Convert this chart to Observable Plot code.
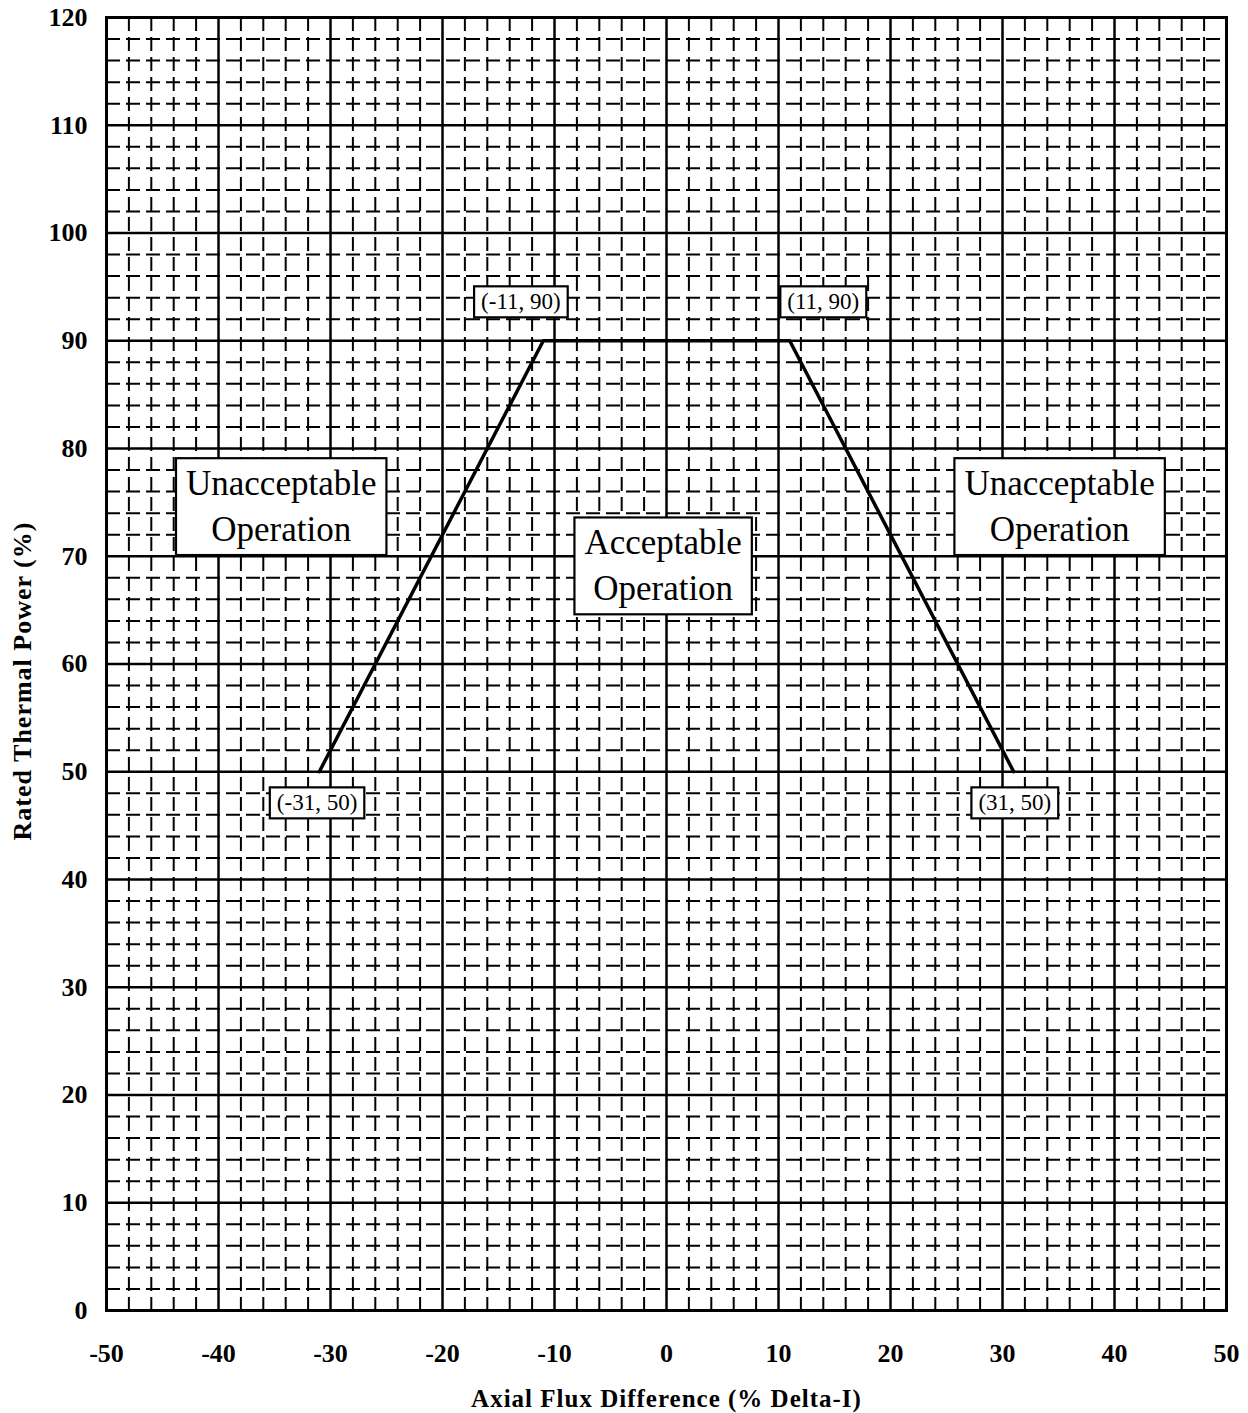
<!DOCTYPE html>
<html>
<head>
<meta charset="utf-8">
<script src="https://cdn.jsdelivr.net/npm/d3@7"></script>
<script src="https://cdn.jsdelivr.net/npm/@observablehq/plot@0.6"></script>
<style>
  html, body { margin: 0; padding: 0; background: white; }
  #chart svg { display: block; }
</style>
</head>
<body>
<div id="chart"></div>
<script>
// Tick labels
const xTicks = [-50, -40, -30, -20, -10, 0, 10, 20, 30, 40, 50];
const yTicks = [0, 10, 20, 30, 40, 50, 60, 70, 80, 90, 100, 110, 120];

// Limit line (Axial Flux Difference, Rated Thermal Power)
const limitAFD = [-31, -11, 11, 31];
const limitPower = [50, 90, 90, 50];

// Point labels
const pointText = ["(-11, 90)", "(11, 90)", "(-31, 50)", "(31, 50)"];
const pointX = [-13, 14, -31.2, 31.1];
const pointY = [93.6, 93.6, 47.1, 47.1];

// Region labels
const regionText = ["Unacceptable\nOperation", "Acceptable\nOperation", "Unacceptable\nOperation"];
const regionX = [-34.4, -0.3, 35.1];
const regionY = [74.9, 69.4, 74.9];

const xTitle = "Axial Flux Difference (% Delta-I)";
const yTitle = "Rated Thermal Power (%)";

// Grid
const xMinor = d3.range(-50, 51, 2).filter(v => v % 10 !== 0);
const yMinor = d3.range(0, 121, 2).filter(v => v % 10 !== 0);

const limitData = limitAFD.map((x, i) => ({x, y: limitPower[i]}));
const pointData = pointText.map((t, i) => ({t, x: pointX[i], y: pointY[i]}));
const regionData = regionText.map((t, i) => ({t, x: regionX[i], y: regionY[i]}));

const serif = "'Liberation Serif', 'Times New Roman', serif";

const chart = Plot.plot({
  width: 1248,
  height: 1413,
  marginLeft: 106,
  marginRight: 22,
  marginTop: 17,
  marginBottom: 103,
  style: {fontFamily: serif, fontSize: "26px", fontWeight: "bold", background: "white", color: "black"},
  x: {domain: [-50, 50], ticks: xTicks, tickSize: 0, tickPadding: 33, tickFormat: d => String(d), label: null},
  y: {domain: [0, 120], ticks: yTicks, tickSize: 0, tickPadding: 19, tickFormat: d => String(d), label: null},
  marks: [
    Plot.ruleX(xMinor, {stroke: "black", strokeWidth: 2, strokeDasharray: "14,6"}),
    Plot.ruleY(yMinor, {stroke: "black", strokeWidth: 2, strokeDasharray: "14,6"}),
    Plot.ruleX(xTicks, {stroke: "black", strokeWidth: 2.5}),
    Plot.ruleY(yTicks, {stroke: "black", strokeWidth: 2.5}),
    Plot.frame({stroke: "black", strokeWidth: 3}),
    Plot.line(limitData, {x: "x", y: "y", stroke: "black", strokeWidth: 3.5}),
    Plot.text(regionData, {x: "x", y: "y", text: "t", fontSize: 35, fontWeight: "normal", lineHeight: 1.31, lineAnchor: "middle", fill: "black"}),
    Plot.text(pointData, {x: "x", y: "y", text: "t", fontSize: 23, fontWeight: "normal", lineAnchor: "middle", fill: "black"}),
    Plot.text([xTitle], {frameAnchor: "bottom", dy: 96, fontSize: 25, fontWeight: "bold", fill: "black"}),
    Plot.text([yTitle], {frameAnchor: "left", dx: -84, dy: 17, rotate: -90, textAnchor: "middle", fontSize: 26, fontWeight: "bold", fill: "black"})
  ]
});

document.getElementById("chart").append(chart);

const textGroups = chart.querySelectorAll('g[aria-label="text"]');

function boxify(group, padX, padY) {
  group.querySelectorAll("text").forEach(t => {
    const b = t.getBBox();
    const r = document.createElementNS("http://www.w3.org/2000/svg", "rect");
    r.setAttribute("x", b.x - padX);
    r.setAttribute("y", b.y - padY);
    r.setAttribute("width", b.width + 2 * padX);
    r.setAttribute("height", b.height + 2 * padY);
    r.setAttribute("fill", "white");
    r.setAttribute("stroke", "black");
    r.setAttribute("stroke-width", 2.2);
    const tr = t.getAttribute("transform");
    if (tr) r.setAttribute("transform", tr);
    t.parentNode.insertBefore(r, t);
  });
}
if (textGroups.length >= 4) {
  boxify(textGroups[0], 10, 6);
  boxify(textGroups[1], 7, 3);
  textGroups[2].querySelectorAll("text").forEach(t => t.style.letterSpacing = "1px");
  textGroups[3].querySelectorAll("text").forEach(t => t.style.letterSpacing = "1px");
}
</script>
</body>
</html>
